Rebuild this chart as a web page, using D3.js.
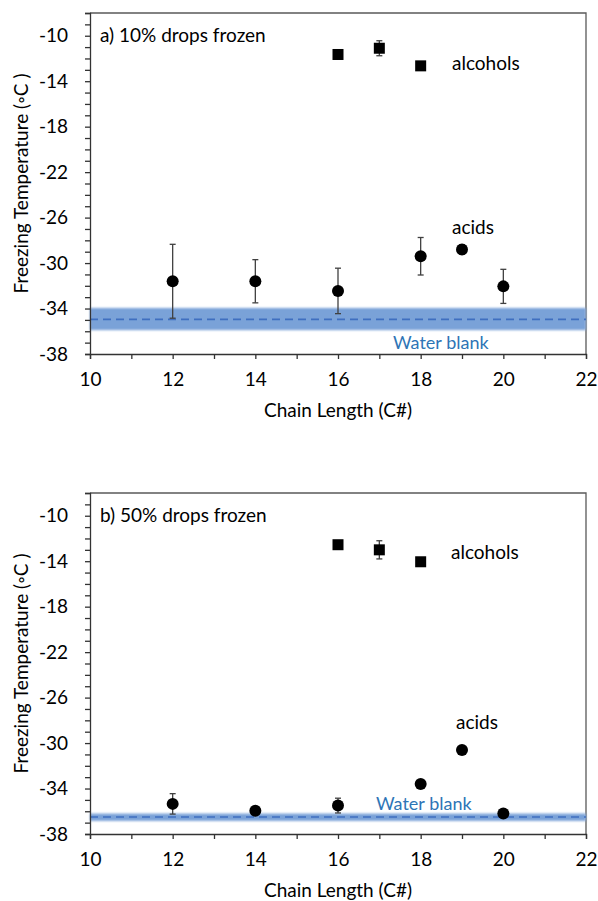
<!DOCTYPE html>
<html>
<head>
<meta charset="utf-8">
<script src="https://cdn.jsdelivr.net/npm/d3@7"></script>
<style>
    body { margin: 0; background: #fff; }
    svg text { font-family: Lato, 'Open Sans', sans-serif; }
</style>
</head>
<body>
<div id="chart"></div>
<script>
// chain lengths
const alcoholC = [16, 17, 18];
const acidC = [12, 14, 16, 18, 19, 20];

// panel a) 10% drops frozen
const alcoholA = [-11.65, -11.1, -12.65];
const alcoholErrA = [0, 0.66, 0.2];
const acidA = [-31.6, -31.6, -32.45, -29.4, -28.8, -32.05];
const acidErrA = [3.25, 1.9, 2.0, 1.65, 0.4, 1.5];
const blankA = { lo: -35.9, hi: -33.95, mid: -34.95 };

// panel b) 50% drops frozen
const alcoholB = [-12.55, -13.0, -14.05];
const alcoholErrB = [0, 0.8, 0];
const acidB = [-35.35, -35.95, -35.5, -33.6, -30.6, -36.2];
const acidErrB = [0.9, 0, 0.65, 0.3, 0, 0];
const blankB = { lo: -36.85, hi: -36.2, mid: -36.5 };

const xTicks = [10, 12, 14, 16, 18, 20, 22];
const yTicks = [-38, -34, -30, -26, -22, -18, -14, -10];

const width = 598;
const height = 901;
const fontSize = 19;

const svg = d3.select('#chart').append('svg')
    .attr('width', width)
    .attr('height', height);

const defs = svg.append('defs');
defs.append('filter')
    .attr('id', 'soft')
    .attr('x', '-5%').attr('y', '-50%').attr('width', '110%').attr('height', '200%')
    .append('feGaussianBlur')
    .attr('stdDeviation', 0.8);

const drawPanel = function(top, opts) {
    const marginLeft = 90;
    const plotRight = 586;
    const plotTop = top;
    const plotBottom = top + 341;

    const x = d3.scaleLinear().domain([10, 22]).range([marginLeft, plotRight]);
    const y = d3.scaleLinear().domain([-38, -8]).range([plotBottom, plotTop]);

    const g = svg.append('g');

    // frame (top + right)
    g.append('path')
        .attr('d', `M${marginLeft},${plotTop}H${plotRight}V${plotBottom}`)
        .attr('fill', 'none')
        .attr('stroke', '#595959')
        .attr('stroke-width', 1.3);

    // water blank band
    g.append('rect')
        .attr('x', x(10))
        .attr('y', y(opts.blank.hi))
        .attr('width', x(22) - x(10))
        .attr('height', y(opts.blank.lo) - y(opts.blank.hi))
        .attr('fill', '#7aa2d8')
        .attr('filter', 'url(#soft)');
    g.append('line')
        .attr('x1', x(10)).attr('x2', x(22))
        .attr('y1', y(opts.blank.mid)).attr('y2', y(opts.blank.mid))
        .attr('stroke', '#3f6fc0')
        .attr('stroke-width', 1.6)
        .attr('stroke-dasharray', '8,5');

    // axes
    g.append('g')
        .attr('transform', `translate(0,${plotBottom})`)
        .call(d3.axisBottom(x).tickValues(d3.range(10, 23, 1)).tickSize(5).tickFormat(''))
        .call(a => a.selectAll('line, path').attr('stroke', '#333').attr('stroke-width', 1.3));
    g.append('g')
        .attr('transform', `translate(0,${plotBottom})`)
        .call(d3.axisBottom(x).tickValues(xTicks).tickSize(0).tickPadding(19))
        .call(a => a.select('.domain').remove())
        .call(a => a.selectAll('text').attr('font-size', fontSize).attr('fill', '#000'));

    g.append('g')
        .attr('transform', `translate(${marginLeft},0)`)
        .call(d3.axisLeft(y).tickValues(d3.range(-38, -7, 1)).tickSize(5).tickFormat(''))
        .call(a => a.selectAll('line, path').attr('stroke', '#333').attr('stroke-width', 1.3));
    g.append('g')
        .attr('transform', `translate(${marginLeft},0)`)
        .call(d3.axisLeft(y).tickValues(yTicks).tickSize(0).tickPadding(22).tickFormat(d => d))
        .call(a => a.select('.domain').remove())
        .call(a => a.selectAll('text').attr('font-size', fontSize).attr('fill', '#000'));

    // axis titles
    g.append('text')
        .attr('x', (marginLeft + plotRight) / 2)
        .attr('y', plotBottom + 63)
        .attr('text-anchor', 'middle')
        .attr('font-size', fontSize)
        .text('Chain Length (C#)');
    g.append('text')
        .attr('transform', `translate(28,${(plotTop + plotBottom) / 2}) rotate(-90)`)
        .attr('text-anchor', 'middle')
        .attr('font-size', fontSize)
        .text('Freezing Temperature (◦C )');

    // error bars
    const errs = [];
    alcoholC.forEach((c, i) => errs.push({ c: c, v: opts.alcohol[i], e: opts.alcoholErr[i] }));
    acidC.forEach((c, i) => errs.push({ c: c, v: opts.acid[i], e: opts.acidErr[i] }));
    const eb = g.append('g')
        .attr('stroke', '#404040')
        .attr('stroke-width', 1.3)
        .selectAll('g')
        .data(errs.filter(d => d.e > 0))
        .join('g');
    eb.append('line')
        .attr('x1', d => x(d.c)).attr('x2', d => x(d.c))
        .attr('y1', d => y(d.v + d.e)).attr('y2', d => y(d.v - d.e));
    eb.append('line')
        .attr('x1', d => x(d.c) - 3).attr('x2', d => x(d.c) + 3)
        .attr('y1', d => y(d.v + d.e)).attr('y2', d => y(d.v + d.e));
    eb.append('line')
        .attr('x1', d => x(d.c) - 3).attr('x2', d => x(d.c) + 3)
        .attr('y1', d => y(d.v - d.e)).attr('y2', d => y(d.v - d.e));

    // alcohols (squares)
    g.append('g')
        .selectAll('rect')
        .data(alcoholC)
        .join('rect')
        .attr('x', (d) => x(d) - 5.5)
        .attr('y', (d, i) => y(opts.alcohol[i]) - 5.5)
        .attr('width', 11)
        .attr('height', 11)
        .attr('fill', '#000');

    // acids (circles)
    g.append('g')
        .selectAll('circle')
        .data(acidC)
        .join('circle')
        .attr('cx', (d) => x(d))
        .attr('cy', (d, i) => y(opts.acid[i]))
        .attr('r', 6)
        .attr('fill', '#000');

    // labels
    g.append('text')
        .attr('x', marginLeft + 10)
        .attr('y', y(-10))
        .attr('dy', '0.35em')
        .attr('font-size', fontSize)
        .text(opts.title);
    g.append('text')
        .attr('x', opts.alcLabel[0])
        .attr('y', y(opts.alcLabel[1]))
        .attr('dy', '0.35em')
        .attr('font-size', fontSize)
        .text('alcohols');
    g.append('text')
        .attr('x', opts.acidLabel[0])
        .attr('y', y(opts.acidLabel[1]))
        .attr('dy', '0.35em')
        .attr('font-size', fontSize)
        .text('acids');
    g.append('text')
        .attr('x', opts.waterLabel[0])
        .attr('y', y(opts.waterLabel[1]))
        .attr('dy', '0.35em')
        .attr('font-size', 18)
        .attr('fill', '#2e75b6')
        .text('Water blank');
};

drawPanel(13, {
    title: 'a) 10% drops frozen',
    alcohol: alcoholA, alcoholErr: alcoholErrA,
    acid: acidA, acidErr: acidErrA,
    blank: blankA,
    alcLabel: [452, -12.4], acidLabel: [452, -26.9], waterLabel: [393, -37]
});

drawPanel(493, {
    title: 'b) 50% drops frozen',
    alcohol: alcoholB, alcoholErr: alcoholErrB,
    acid: acidB, acidErr: acidErrB,
    blank: blankB,
    alcLabel: [451, -13.2], acidLabel: [456, -28.2], waterLabel: [376, -35.35]
});
</script>
</body>
</html>
